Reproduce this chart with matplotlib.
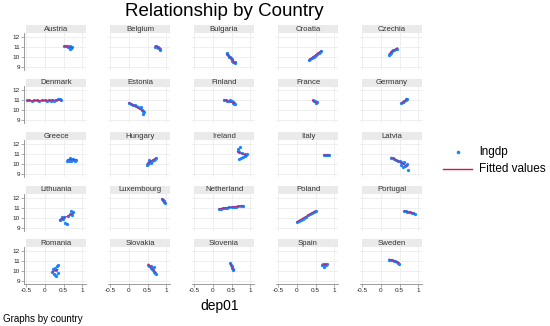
import numpy as np
import matplotlib
matplotlib.use("Agg")
import matplotlib.pyplot as plt
from matplotlib.patches import Rectangle
from matplotlib.lines import Line2D

plt.rcParams['font.family'] = ['Liberation Sans', 'DejaVu Sans']

# ---- data (dep01, lngdp) ----
countries = ["Austria", "Belgium", "Bulgaria", "Croatia", "Czechia",
             "Denmark", "Estonia", "Finland", "France", "Germany",
             "Greece", "Hungary", "Ireland", "Italy", "Latvia",
             "Lithuania", "Luxembourg", "Netherland", "Poland", "Portugal",
             "Romania", "Slovakia", "Slovenia", "Spain", "Sweden"]

austria_x = [0.52, 0.55, 0.58, 0.60, 0.62, 0.64, 0.66, 0.68, 0.70, 0.72, 0.70, 0.68, 0.66]
austria_y = [11.08, 11.07, 11.08, 11.06, 11.05, 11.04, 11.06, 11.00, 10.95, 11.05, 10.90, 10.85, 10.88]
belgium_x = [0.70, 0.72, 0.75, 0.78, 0.80, 0.78, 0.82, 0.84]
belgium_y = [11.05, 11.10, 11.00, 10.95, 10.90, 11.05, 10.80, 10.75]
bulgaria_x = [0.38, 0.37, 0.40, 0.42, 0.45, 0.48, 0.50, 0.50, 0.52, 0.55, 0.58, 0.60]
bulgaria_y = [10.45, 10.30, 10.20, 10.05, 10.00, 9.95, 9.85, 9.70, 9.60, 9.50, 9.45, 9.50]
croatia_x = [0.33, 0.36, 0.40, 0.43, 0.46, 0.48, 0.50, 0.53, 0.56, 0.60, 0.63, 0.65]
croatia_y = [9.75, 9.85, 9.90, 10.00, 10.05, 10.15, 10.20, 10.30, 10.40, 10.45, 10.55, 10.65]
czechia_x = [0.22, 0.24, 0.26, 0.28, 0.30, 0.33, 0.36, 0.40, 0.44]
czechia_y = [10.25, 10.35, 10.45, 10.55, 10.60, 10.70, 10.75, 10.80, 10.85]

denmark_x = [-0.48, -0.42, -0.35, -0.30, -0.22, -0.15, -0.08, 0.00, 0.05, 0.10, 0.15, 0.20, 0.25, 0.30, 0.35, 0.40, 0.44]
denmark_y = [11.00, 11.02, 10.98, 11.01, 11.00, 10.97, 11.02, 11.00, 10.96, 11.03, 10.98, 11.05, 10.95, 11.02, 11.10, 11.12, 11.08]
estonia_x = [0.00, 0.05, 0.10, 0.15, 0.20, 0.25, 0.30, 0.33, 0.35, 0.38, 0.40, 0.38]
estonia_y = [10.70, 10.62, 10.55, 10.50, 10.45, 10.30, 10.20, 10.35, 10.00, 9.90, 9.80, 9.65]
finland_x = [0.30, 0.34, 0.38, 0.42, 0.46, 0.50, 0.53, 0.55, 0.57, 0.58, 0.56]
finland_y = [11.00, 11.00, 10.98, 10.97, 11.00, 10.95, 10.85, 10.75, 10.70, 10.60, 10.65]
france_x = [0.42, 0.45, 0.48, 0.50, 0.52, 0.54]
france_y = [11.00, 10.95, 10.90, 10.85, 10.75, 10.80]
germany_x = [0.55, 0.58, 0.60, 0.63, 0.66, 0.68, 0.70]
germany_y = [10.75, 10.80, 10.85, 10.95, 11.00, 11.10, 11.15]

greece_x = [0.60, 0.63, 0.66, 0.68, 0.70, 0.72, 0.75, 0.78, 0.80, 0.83, 0.70, 0.65]
greece_y = [10.35, 10.40, 10.55, 10.60, 10.50, 10.45, 10.55, 10.40, 10.35, 10.40, 10.30, 10.30]
hungary_x = [0.48, 0.50, 0.52, 0.55, 0.58, 0.60, 0.62, 0.65, 0.68, 0.70, 0.72, 0.55]
hungary_y = [9.90, 10.00, 10.10, 10.20, 10.15, 10.30, 10.35, 10.40, 10.45, 10.55, 10.60, 10.40]
ireland_x = [0.72, 0.68, 0.66, 0.70, 0.78, 0.85, 0.90, 0.88, 0.85, 0.80, 0.75, 0.70]
ireland_y = [11.70, 11.50, 11.35, 11.25, 11.10, 11.00, 11.05, 10.95, 10.80, 10.70, 10.60, 10.50]
italy_x = [0.72, 0.75, 0.78, 0.80, 0.83, 0.86]
italy_y = [10.90, 10.92, 10.88, 10.90, 10.93, 10.90]
latvia_x = [0.28, 0.32, 0.36, 0.40, 0.45, 0.50, 0.55, 0.58, 0.62, 0.55, 0.60, 0.65, 0.70, 0.72]
latvia_y = [10.60, 10.58, 10.50, 10.45, 10.35, 10.30, 10.25, 10.10, 10.20, 9.90, 9.75, 9.85, 10.05, 9.45]

lithuania_x = [0.40, 0.42, 0.45, 0.48, 0.50, 0.55, 0.60, 0.62, 0.68, 0.70, 0.75, 0.72, 0.45]
lithuania_y = [9.80, 9.90, 10.00, 9.85, 10.05, 9.50, 9.40, 10.20, 10.40, 10.70, 10.60, 10.30, 10.10]
luxembourg_x = [0.88, 0.90, 0.92, 0.94, 0.95, 0.97]
luxembourg_y = [11.85, 11.80, 11.80, 11.65, 11.55, 11.50]
netherland_x = [0.17, 0.22, 0.27, 0.32, 0.38, 0.44, 0.50, 0.56, 0.62, 0.68, 0.74, 0.80]
netherland_y = [10.85, 10.90, 10.95, 10.98, 11.00, 11.02, 11.05, 11.08, 11.10, 11.12, 11.15, 11.20]
poland_x = [0.00, 0.05, 0.10, 0.15, 0.20, 0.25, 0.30, 0.35, 0.40, 0.45, 0.50]
poland_y = [9.60, 9.70, 9.80, 9.90, 10.00, 10.10, 10.25, 10.35, 10.45, 10.60, 10.70]
portugal_x = [0.63, 0.66, 0.70, 0.74, 0.78, 0.82, 0.86, 0.90]
portugal_y = [10.65, 10.62, 10.58, 10.55, 10.52, 10.48, 10.45, 10.40]

romania_x = [0.25, 0.28, 0.32, 0.35, 0.30, 0.22, 0.20, 0.25, 0.30, 0.35, 0.28]
romania_y = [10.20, 10.35, 10.50, 10.60, 10.10, 10.20, 9.90, 9.70, 9.55, 9.80, 9.60]
slovakia_x = [0.52, 0.55, 0.58, 0.60, 0.62, 0.65, 0.68, 0.70, 0.72, 0.66]
slovakia_y = [10.60, 10.55, 10.50, 10.35, 10.25, 10.10, 9.95, 9.85, 9.75, 10.40]
slovenia_x = [0.47, 0.48, 0.50, 0.52, 0.53, 0.55]
slovenia_y = [10.80, 10.60, 10.50, 10.35, 10.20, 10.15]
spain_x = [0.68, 0.70, 0.72, 0.75, 0.78, 0.80, 0.72]
spain_y = [10.60, 10.75, 10.55, 10.70, 10.65, 10.68, 10.45]
sweden_x = [0.22, 0.26, 0.30, 0.34, 0.38, 0.42, 0.45, 0.48]
sweden_y = [11.15, 11.12, 11.10, 11.05, 11.00, 10.95, 10.85, 10.75]

series = [(austria_x, austria_y), (belgium_x, belgium_y), (bulgaria_x, bulgaria_y),
          (croatia_x, croatia_y), (czechia_x, czechia_y),
          (denmark_x, denmark_y), (estonia_x, estonia_y), (finland_x, finland_y),
          (france_x, france_y), (germany_x, germany_y),
          (greece_x, greece_y), (hungary_x, hungary_y), (ireland_x, ireland_y),
          (italy_x, italy_y), (latvia_x, latvia_y),
          (lithuania_x, lithuania_y), (luxembourg_x, luxembourg_y), (netherland_x, netherland_y),
          (poland_x, poland_y), (portugal_x, portugal_y),
          (romania_x, romania_y), (slovakia_x, slovakia_y), (slovenia_x, slovenia_y),
          (spain_x, spain_y), (sweden_x, sweden_y)]

x_ticks = [-0.5, 0, 0.5, 1]
x_ticklabels = ["-0.5", "0", "0.5", "1"]
y_ticks = [9, 10, 11, 12]
y_ticklabels = ["9", "10", "11", "12"]

BLUE = '#1a85ff'
PINK = '#d41159'
GRID = '#ececec'
AXC = '#8a8a8a'

W, H = 550, 326
fig = plt.figure(figsize=(W / 100, H / 100), dpi=100)

col_left0, col_step, ax_w = 24, 84, 62
row_top0, row_step, ax_h = 33, 53.5, 37
strip_h = 8

for i, (name, (xs, ys)) in enumerate(zip(countries, series)):
    r, c = divmod(i, 5)
    left = col_left0 + col_step * c
    top = row_top0 + row_step * r
    ax = fig.add_axes([left / W, 1 - (top + ax_h) / H, ax_w / W, ax_h / H])
    ax.set_xlim(-0.56, 1.1)
    ax.set_ylim(8.7, 12.4)
    for gx in x_ticks:
        ax.axvline(gx, color=GRID, lw=0.6, zorder=0)
    for gy in y_ticks:
        ax.axhline(gy, color=GRID, lw=0.6, zorder=0)
    xs = np.array(xs); ys = np.array(ys)
    ax.scatter(xs, ys, s=5.5, color=BLUE, linewidths=0, zorder=2)
    b, a = np.polyfit(xs, ys, 1)
    xf = np.linspace(xs.min(), xs.max(), 20)
    ax.plot(xf, a + b * xf, color=PINK, lw=0.8, zorder=3, alpha=0.85)
    for sp in ax.spines.values():
        sp.set_visible(False)
    ax.set_xticks(x_ticks)
    ax.set_yticks(y_ticks)
    ax.tick_params(length=2, width=0.5, color=AXC, labelsize=4.6, pad=1, labelcolor='#222222')
    if c == 0:
        ax.spines['left'].set_visible(True)
        ax.spines['left'].set_color(AXC)
        ax.spines['left'].set_linewidth(0.6)
        ax.set_yticklabels(y_ticklabels)
    else:
        ax.tick_params(axis='y', left=False, labelleft=False)
    if r == 4:
        ax.spines['bottom'].set_visible(True)
        ax.spines['bottom'].set_color(AXC)
        ax.spines['bottom'].set_linewidth(0.6)
        ax.set_xticklabels(x_ticklabels)
    else:
        ax.tick_params(axis='x', bottom=False, labelbottom=False)
    # strip
    sl = (left + 2) / W
    sb = 1 - top / H
    fig.patches.append(Rectangle((sl, sb), (ax_w - 2) / W, strip_h / H,
                                 transform=fig.transFigure, facecolor='#eaeaea',
                                 edgecolor='none', zorder=0))
    fig.text(sl + (ax_w - 2) / W / 2, sb + strip_h / H / 2 - 0.001, name,
             ha='center', va='center', fontsize=5.6, color='#333333')

fig.text(224 / W, 1 - 12 / H, "Relationship by Country", ha='center', va='center',
         fontsize=13.5, color='black')
fig.text(220 / W, 1 - 306 / H, "dep01", ha='center', va='center', fontsize=10, color='black')
fig.text(3 / W, 1 - 319 / H, "Graphs by country", ha='left', va='center', fontsize=7, color='black')

# legend
fig.add_artist(Line2D([458 / W], [1 - 152 / H], marker='o', markersize=2.6, color=BLUE,
                      markeredgewidth=0, linestyle='none', transform=fig.transFigure))
fig.text(479 / W, 1 - 152 / H, "lngdp", ha='left', va='center', fontsize=8.5)
fig.add_artist(Line2D([443 / W, 472 / W], [1 - 169 / H, 1 - 169 / H], color=PINK, lw=1.0,
                      transform=fig.transFigure))
fig.text(479 / W, 1 - 169 / H, "Fitted values", ha='left', va='center', fontsize=8.5)

fig.savefig("out.png", dpi=100, facecolor='white')
